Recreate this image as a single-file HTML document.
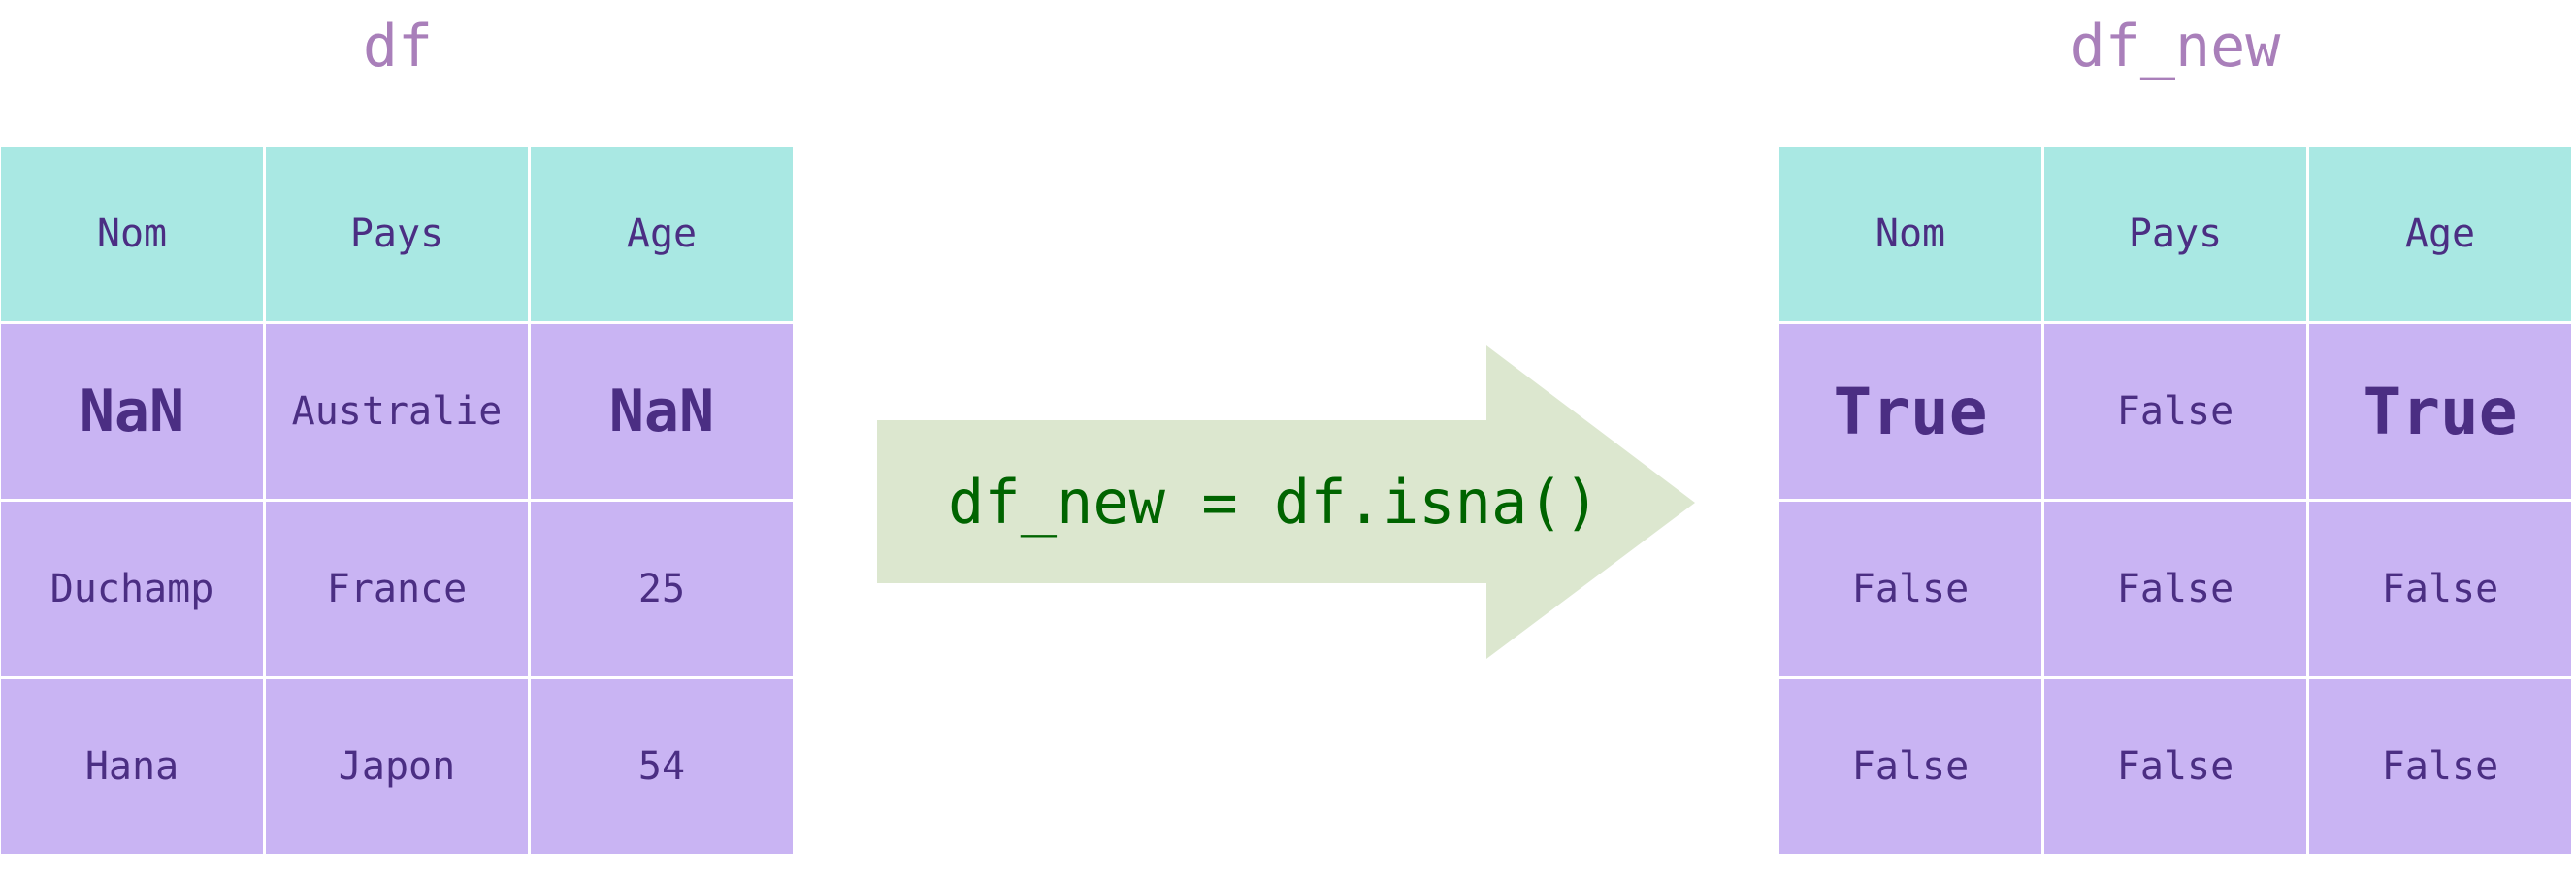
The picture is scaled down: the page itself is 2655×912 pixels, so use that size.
<!DOCTYPE html>
<html><head><meta charset="utf-8"><style>
html,body{margin:0;padding:0;background:#fff;width:2655px;height:912px;overflow:hidden;position:relative}
.c{position:absolute;display:flex;align-items:center;justify-content:center;color:#4b2e83;font-family:"DejaVu Sans Mono","Liberation Mono",monospace;font-size:40px;white-space:nowrap}
.h{background:#a9e8e3}.b{background:#c9b4f3}
.big{font-weight:bold;font-size:60px}
.tr{font-weight:bold;font-size:66px}
.t{position:absolute;color:#a97fba;font-family:"DejaVu Sans Mono","Liberation Mono",monospace;font-size:60px;transform:translate(-50%,-50%);top:48px}
</style></head><body>
<div class="t" style="left:410px">df</div>
<div class="t" style="left:2242px">df_new</div>
<svg style="position:absolute;left:0;top:0" width="2655" height="912"><polygon points="904,433 1532,433 1532,356 1747,518 1532,679 1532,601 904,601" fill="#dce7cf"/></svg>
<div class="c" style="left:953px;top:433px;width:720px;height:168px;color:#006400;font-size:62px">df_new = df.isna()</div>
<div id="L"></div>
<script>
function tbl(x0,rows){
 const xs=[0,273,546],ys=[151,334,517,700];let h='';
 rows.forEach((r,i)=>r.forEach((v,j)=>{
  let cls=i==0?'h':'b',extra='';
  if(v=='NaN')extra=' big'; if(v=='True')extra=' tr';
  h+=`<div class="c ${cls}${extra}" style="left:${x0+xs[j]}px;top:${ys[i]}px;width:270px;height:180px">${v}</div>`;
 }));
 return h;}
document.getElementById('L').innerHTML=
 tbl(1,[['Nom','Pays','Age'],['NaN','Australie','NaN'],['Duchamp','France','25'],['Hana','Japon','54']])+
 tbl(1834,[['Nom','Pays','Age'],['True','False','True'],['False','False','False'],['False','False','False']]);
</script>
</body></html>
